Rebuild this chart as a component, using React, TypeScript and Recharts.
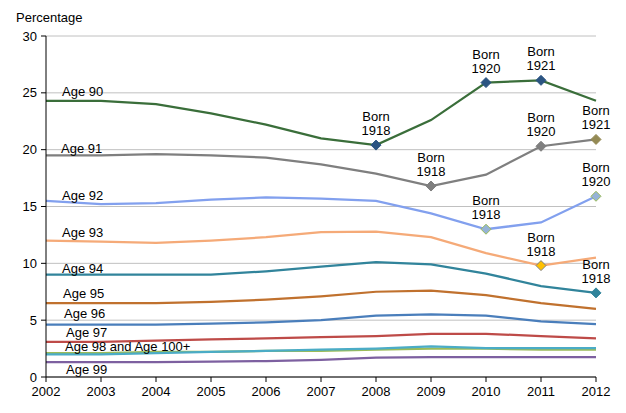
import React from "react"
import { LineChart, Line, XAxis, YAxis, CartesianGrid } from "recharts"

const years = [2002, 2003, 2004, 2005, 2006, 2007, 2008, 2009, 2010, 2011, 2012]

const age90 = [24.3, 24.3, 24.0, 23.2, 22.2, 21.0, 20.4, 22.6, 25.9, 26.1, 24.3]
const age91 = [19.5, 19.5, 19.6, 19.5, 19.3, 18.7, 17.9, 16.8, 17.8, 20.3, 20.9]
const age92 = [15.5, 15.2, 15.3, 15.6, 15.8, 15.7, 15.5, 14.4, 13.0, 13.6, 15.9]
const age93 = [12.0, 11.9, 11.8, 12.0, 12.3, 12.75, 12.8, 12.3, 10.9, 9.8, 10.5]
const age94 = [9.0, 9.0, 9.0, 9.0, 9.3, 9.7, 10.1, 9.9, 9.1, 8.0, 7.4]
const age95 = [6.5, 6.5, 6.5, 6.6, 6.8, 7.1, 7.5, 7.6, 7.2, 6.5, 6.0]
const age96 = [4.6, 4.6, 4.6, 4.7, 4.8, 5.0, 5.4, 5.5, 5.4, 4.9, 4.65]
const age97 = [3.1, 3.1, 3.2, 3.3, 3.4, 3.5, 3.6, 3.8, 3.8, 3.6, 3.4]
const age98 = [2.1, 2.1, 2.2, 2.2, 2.3, 2.3, 2.4, 2.5, 2.5, 2.4, 2.4]
const age99 = [1.3, 1.3, 1.3, 1.35, 1.4, 1.5, 1.7, 1.75, 1.75, 1.75, 1.75]
const age100 = [2.0, 2.0, 2.1, 2.2, 2.3, 2.4, 2.5, 2.7, 2.55, 2.55, 2.55]

// birth-year annotations (cohort markers)
const age90Born = [null, null, null, null, null, null, 1918, null, 1920, 1921, null]
const age91Born = [null, null, null, null, null, null, null, 1918, null, 1920, 1921]
const age92Born = [null, null, null, null, null, null, null, null, 1918, null, 1920]
const age93Born = [null, null, null, null, null, null, null, null, null, 1918, null]
const age94Born = [null, null, null, null, null, null, null, null, null, null, 1918]
const noBorn = years.map(() => null)

const yTicks = [0, 5, 10, 15, 20, 25, 30]

const FONT = "'Liberation Sans', Arial, sans-serif"
const FS = 13

type Series = {
  key: string
  label: string | null
  values: number[]
  born: (number | null)[]
  color: string
  dx: number
  dy: number
  marker: Record<number, [string, string]>
}

const series: Series[] = [
  { key: "a99", label: "Age 99", values: age99, born: noBorn, color: "#7d60a0", dx: 20, dy: 12, marker: {} },
  { key: "a98", label: null, values: age98, born: noBorn, color: "#9bbb59", dx: 0, dy: 0, marker: {} },
  { key: "a100", label: "Age 98 and Age 100+", values: age100, born: noBorn, color: "#4bacc6", dx: 19, dy: -3, marker: {} },
  { key: "a97", label: "Age 97", values: age97, born: noBorn, color: "#be4b48", dx: 20, dy: -5, marker: {} },
  { key: "a96", label: "Age 96", values: age96, born: noBorn, color: "#4a7ebb", dx: 18, dy: -7, marker: {} },
  { key: "a95", label: "Age 95", values: age95, born: noBorn, color: "#c0712e", dx: 17, dy: -5, marker: {} },
  {
    key: "a94", label: "Age 94", values: age94, born: age94Born, color: "#31849b", dx: 16, dy: -2,
    marker: { 10: ["#31849b", "#31849b"] },
  },
  {
    key: "a93", label: "Age 93", values: age93, born: age93Born, color: "#f5aa78", dx: 16, dy: -4,
    marker: { 9: ["#ffc000", "#7f7f7f"] },
  },
  {
    key: "a92", label: "Age 92", values: age92, born: age92Born, color: "#82a0ee", dx: 16, dy: -1,
    marker: { 8: ["#95b3d7", "#9bbb59"], 10: ["#95b3d7", "#9bbb59"] },
  },
  {
    key: "a91", label: "Age 91", values: age91, born: age91Born, color: "#7f7f7f", dx: 15, dy: -2,
    marker: { 7: ["#7f7f7f", "#7f7f7f"], 9: ["#7f7f7f", "#7f7f7f"], 10: ["#948a54", "#948a54"] },
  },
  {
    key: "a90", label: "Age 90", values: age90, born: age90Born, color: "#3a6e3a", dx: 16, dy: -5,
    marker: { 6: ["#2b5482", "#2b5482"], 8: ["#2b5482", "#2b5482"], 9: ["#2b5482", "#2b5482"] },
  },
]

const data = years.map((year, i) => {
  const row: Record<string, number | string> = { year: String(year) }
  series.forEach((s) => {
    row[s.key] = s.values[i]
  })
  return row
})

function makeDot(s: Series) {
  return (props: any) => {
    const { cx, cy, index } = props
    const k = `${s.key}-${index}`
    const parts: React.ReactNode[] = []
    if (index === 0 && s.label) {
      parts.push(
        <text key="l" x={cx + s.dx} y={cy + s.dy} fontSize={FS} fontFamily={FONT} fill="#000">
          {s.label}
        </text>
      )
    }
    const b = s.born[index]
    if (b) {
      const [fill, stroke] = s.marker[index] || [s.color, s.color]
      const r = 5
      parts.push(
        <path
          key="m"
          d={`M${cx},${cy - r} L${cx + r},${cy} L${cx},${cy + r} L${cx - r},${cy} Z`}
          fill={fill}
          stroke={stroke}
          strokeWidth={1}
        />
      )
      parts.push(
        <text key="t" x={cx} textAnchor="middle" fontSize={FS} fontFamily={FONT} fill="#000">
          <tspan x={cx} y={cy - 24}>Born</tspan>
          <tspan x={cx} y={cy - 10}>{b}</tspan>
        </text>
      )
    }
    return <g key={k}>{parts}</g>
  }
}

export default function App() {
  return (
    <div style={{ position: "absolute", left: 0, top: 0, width: 626, height: 413, background: "#fff" }}>
      <div style={{ position: "absolute", left: 16, top: 10, fontSize: FS, fontFamily: FONT, color: "#000" }}>
        Percentage
      </div>
      <LineChart width={626} height={413} data={data} margin={{ top: 36, right: 30, left: 0, bottom: 0 }}>
        <CartesianGrid vertical={false} stroke="#c0c0c0" strokeWidth={1} />
        <XAxis
          dataKey="year"
          height={36}
          tick={{ fill: "#000", fontSize: FS, fontFamily: FONT }}
          tickLine={{ stroke: "#000" }}
          axisLine={{ stroke: "#000" }}
          tickSize={5}
          tickMargin={5}
          interval={0}
        />
        <YAxis
          width={46}
          domain={[0, 30]}
          ticks={yTicks}
          tick={{ fill: "#000", fontSize: FS, fontFamily: FONT }}
          tickLine={{ stroke: "#000" }}
          axisLine={{ stroke: "#000" }}
          tickSize={5}
          tickMargin={4}
        />
        {series.map((s) => (
          <Line
            key={s.key}
            dataKey={s.key}
            type="linear"
            stroke={s.color}
            strokeWidth={2.25}
            dot={makeDot(s)}
            activeDot={false}
            isAnimationActive={false}
          />
        ))}
      </LineChart>
    </div>
  )
}
